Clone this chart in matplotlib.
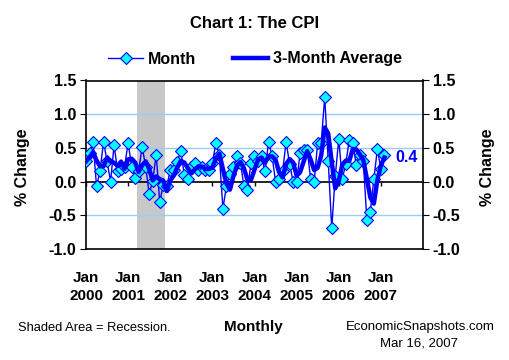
import matplotlib.pyplot as plt
import numpy as np
import pandas as pd

plt.rcParams['font.family'] = ['Liberation Sans', 'DejaVu Sans']

# monthly % change in CPI, Jan 2000 - Feb 2007
cpi_2000 = [0.30, 0.42, 0.59, -0.07, 0.16, 0.59, 0.30, 0.00, 0.54, 0.16, 0.19, 0.22]
cpi_2001 = [0.58, 0.22, 0.05, 0.16, 0.52, 0.22, -0.18, 0.01, 0.40, -0.30, -0.05, -0.07]
cpi_2002 = [0.17, 0.17, 0.29, 0.46, 0.10, 0.04, 0.22, 0.28, 0.17, 0.22, 0.17, 0.17]
cpi_2003 = [0.28, 0.57, 0.39, -0.40, -0.07, 0.11, 0.21, 0.38, 0.28, -0.07, -0.13, 0.28]
cpi_2004 = [0.38, 0.31, 0.38, 0.15, 0.59, 0.38, 0.00, 0.04, 0.15, 0.59, 0.26, 0.00]
cpi_2005 = [0.00, 0.42, 0.47, 0.47, 0.04, 0.00, 0.58, 0.58, 1.25, 0.31, -0.69, 0.08]
cpi_2006 = [0.63, 0.04, 0.26, 0.62, 0.57, 0.24, 0.40, 0.31, -0.57, -0.45, 0.04, 0.48]
cpi_2007 = [0.19, 0.40]

recession = (14.5, 22.5)   # Mar 2001 - Nov 2001, in months from Jan 2000
years = ['2000', '2001', '2002', '2003', '2004', '2005', '2006', '2007']

month = pd.Series(cpi_2000 + cpi_2001 + cpi_2002 + cpi_2003 + cpi_2004
                  + cpi_2005 + cpi_2006 + cpi_2007)
avg3 = month.rolling(3, min_periods=1).mean()
x = np.arange(len(month))

fig = plt.figure(figsize=(5.1, 3.6), dpi=100)
ax = fig.add_axes([86 / 510, 1 - 249 / 360, 337 / 510, 168.5 / 360])

ax.axvspan(*recession, color='#C8C8C8', lw=0, zorder=0)
for g in [-0.5, 0.5, 1.0]:
    ax.axhline(g, color='#99CCFF', lw=1, zorder=1)

ax.plot(x, month, color='#0000FF', lw=1, marker='D', ms=6.3,
        mfc='#00FFFF', mec='#0000FF', mew=0.8, label='Month', zorder=3)
ax.plot(x, avg3, color='#0000FF', lw=3.2, label='3-Month Average', zorder=4)

ax.text(x[-1] + 3, avg3.iloc[-1], f'{avg3.iloc[-1]:.1f}', color='#0000FF',
        fontsize=11.5, fontweight='bold', va='center', ha='left')

ax.set_xlim(0, 96)
ax.set_ylim(-1.0, 1.5)
ax.set_yticks(np.arange(-1.0, 1.51, 0.5))
ax.yaxis.set_major_formatter(plt.FormatStrFormatter('%.1f'))
ax.tick_params(axis='y', direction='out', length=4, left=True, right=True,
               labelleft=True, labelright=True, labelsize=11.5, pad=3)
for lab in ax.get_yticklabels():
    lab.set_fontweight('bold')

ax.set_xticks(np.arange(0, 96, 12))
ax.set_xticklabels(['Jan\n' + y for y in years], fontsize=11, fontweight='bold',
                   linespacing=1.35)
ax.tick_params(axis='x', length=0, pad=16)

# zero line with tick marks
zero = ax.secondary_xaxis(1.0 / 2.5)
zero.set_xticks(np.arange(0, 96, 12))
zero.tick_params(length=3, labelbottom=False, width=1)
zero.spines['bottom'].set_linewidth(1.2)

for s in ax.spines.values():
    s.set_linewidth(1.2)

fig.text(0.045, 1 - 167 / 360, '% Change', rotation=90, ha='center', va='center',
         fontsize=11.5, fontweight='bold')
fig.text(0.956, 1 - 167 / 360, '% Change', rotation=90, ha='center', va='center',
         fontsize=11.5, fontweight='bold')

fig.text(0.5, 1 - 23 / 360, 'Chart 1: The CPI', ha='center', va='center',
         fontsize=12, fontweight='bold')
fig.legend(loc='center', bbox_to_anchor=(0.5, 1 - 59 / 360), ncol=2, frameon=False,
           prop={'size': 11.5, 'weight': 'bold'}, handlelength=2.2,
           handletextpad=0.3, columnspacing=2.3)

fig.text(18 / 510, 1 - 328 / 360, 'Shaded Area = Recession.', fontsize=9.3,
         ha='left', va='center')
fig.text(253 / 510, 1 - 327 / 360, 'Monthly', fontsize=11, fontweight='bold',
         ha='center', va='center')
fig.text(495 / 510, 1 - 327 / 360, 'EconomicSnapshots.com', fontsize=9.5,
         ha='right', va='center')
fig.text(458 / 510, 1 - 343 / 360, 'Mar 16, 2007', fontsize=9.5,
         ha='right', va='center')

fig.savefig('out.png', dpi=100)
